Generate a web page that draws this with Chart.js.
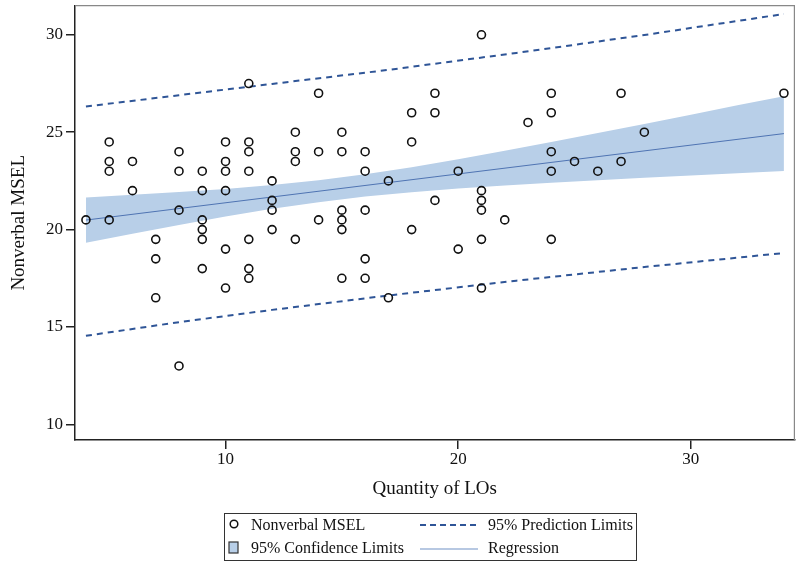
<!DOCTYPE html>
<html>
<head>
<meta charset="utf-8">
<script src="https://cdn.jsdelivr.net/npm/chart.js@4/dist/chart.umd.min.js"></script>
<style>
  body { margin: 0; background: #fff; }
  #wrap { position: relative; width: 800px; height: 565px; }
  #legend {
    position: absolute; left: 224px; top: 513px; width: 411px; height: 46px;
    border: 1.5px solid #333; font-family: 'Liberation Serif', serif; font-size: 16px; color: #111;
  }
  #legend span { position: absolute; line-height: 18px; white-space: nowrap; }
  #legend svg { position: absolute; }
</style>
</head>
<body>
<div id="wrap">
  <canvas id="myChart" width="800" height="565"></canvas>
  <div id="legend">
    <svg style="left:3px;top:4px" width="12" height="12"><circle cx="6" cy="6" r="3.8" fill="none" stroke="#111" stroke-width="1.5"/></svg>
    <span style="left:26px;top:2px">Nonverbal MSEL</span>
    <svg style="left:195px;top:9px" width="58" height="4"><line x1="0" y1="2" x2="58" y2="2" stroke="#2f5597" stroke-width="2" stroke-dasharray="6,4"/></svg>
    <span style="left:263px;top:2px">95% Prediction Limits</span>
    <svg style="left:3px;top:27px" width="12" height="14"><rect x="1" y="1" width="9" height="11" fill="#b8cfe8" stroke="#333" stroke-width="1.2"/></svg>
    <span style="left:26px;top:25px">95% Confidence Limits</span>
    <svg style="left:195px;top:33px" width="58" height="4"><line x1="0" y1="2" x2="58" y2="2" stroke="#9fb6d8" stroke-width="1.5"/></svg>
    <span style="left:263px;top:25px">Regression</span>
  </div>
</div>
<script>
// observed points (x = quantity of LOs, y = nonverbal MSEL)
let pointX = [4, 5, 5, 5, 5, 6, 6, 7, 7, 7, 8, 8, 8, 8,
  9, 9, 9, 9, 9, 9, 10, 10, 10, 10, 10, 10,
  11, 11, 11, 11, 11, 11, 11, 12, 12, 12, 12,
  13, 13, 13, 13, 14, 14, 14, 15, 15, 15, 15, 15, 15,
  16, 16, 16, 16, 16, 17, 17, 18, 18, 18, 19, 19, 19, 20, 20,
  21, 21, 21, 21, 21, 21, 22, 23, 24, 24, 24, 24, 24, 25, 26, 27, 27, 28, 34];
let pointY = [20.5, 24.5, 23.5, 23, 20.5, 23.5, 22, 19.5, 18.5, 16.5, 24, 23, 21, 13,
  23, 22, 20.5, 20, 19.5, 18, 24.5, 23.5, 23, 22, 19, 17,
  27.5, 24.5, 24, 23, 19.5, 18, 17.5, 22.5, 21.5, 21, 20,
  25, 24, 23.5, 19.5, 27, 24, 20.5, 25, 24, 21, 20.5, 20, 17.5,
  24, 23, 21, 18.5, 17.5, 22.5, 16.5, 26, 24.5, 20, 27, 26, 21.5, 23, 19,
  30, 22, 21.5, 21, 19.5, 17, 20.5, 25.5, 27, 26, 24, 23, 19.5, 23.5, 23, 27, 23.5, 25, 27];

// regression line
let regX = [4, 34];
let regY = [20.49, 24.93];

// 95% confidence band
let bandX = [4, 6, 8, 10, 12, 14, 16, 18, 20, 22, 24, 26, 28, 30, 32, 34];
let bandUpper = [21.65, 21.79, 21.93, 22.09, 22.29, 22.53, 22.84, 23.2, 23.61, 24.05, 24.5, 24.96, 25.42, 25.9, 26.38, 26.85];
let bandLower = [19.33, 19.79, 20.24, 20.67, 21.07, 21.41, 21.7, 21.92, 22.11, 22.27, 22.41, 22.54, 22.66, 22.78, 22.9, 23.01];

// 95% prediction limits
let predX = [4, 8, 12, 17, 22.5, 28, 34];
let predUpper = [26.32, 26.9, 27.48, 28.2, 29.07, 29.99, 31.07];
let predLower = [14.55, 15.25, 15.88, 16.62, 17.38, 18.08, 18.8];

let xTicks = [10, 20, 30];
let yTicks = [10, 15, 20, 25, 30];

function pairs(xs, ys) {
    return xs.map((x, i) => ({ x: x, y: ys[i] }));
}

let serif = 'Liberation Serif';
let axisColor = '#222';

// light grey frame on top and right like the original
let framePlugin = {
    id: 'frame',
    afterDraw(chart) {
        let a = chart.chartArea;
        let ctx = chart.ctx;
        ctx.save();
        ctx.strokeStyle = '#888';
        ctx.lineWidth = 1.2;
        ctx.beginPath();
        ctx.moveTo(a.left, a.top);
        ctx.lineTo(a.right, a.top);
        ctx.lineTo(a.right, a.bottom);
        ctx.stroke();
        ctx.restore();
    }
};

let ctx = document.getElementById('myChart').getContext('2d');

let chart = new Chart(ctx, {
    type: 'scatter',
    data: {
        datasets: [
            {
                label: 'Nonverbal MSEL',
                data: pairs(pointX, pointY),
                pointRadius: 4,
                pointBorderWidth: 1.6,
                borderColor: '#111',
                backgroundColor: 'rgba(0,0,0,0)'
            },
            {
                label: 'Regression',
                data: pairs(regX, regY),
                showLine: true,
                pointRadius: 0,
                borderColor: '#4f74b3',
                borderWidth: 1
            },
            {
                label: '95% Prediction Limits',
                data: pairs(predX, predUpper),
                showLine: true,
                pointRadius: 0,
                borderColor: '#2f5597',
                borderWidth: 2,
                borderDash: [6, 5]
            },
            {
                label: 'lower prediction',
                data: pairs(predX, predLower),
                showLine: true,
                pointRadius: 0,
                borderColor: '#2f5597',
                borderWidth: 2,
                borderDash: [6, 5]
            },
            {
                label: '95% Confidence Limits',
                data: pairs(bandX, bandUpper),
                showLine: true,
                pointRadius: 0,
                borderWidth: 0,
                borderColor: 'rgba(0,0,0,0)',
                backgroundColor: '#b8cfe8',
                fill: '+1'
            },
            {
                label: 'lower confidence',
                data: pairs(bandX, bandLower),
                showLine: true,
                pointRadius: 0,
                borderWidth: 0,
                borderColor: 'rgba(0,0,0,0)'
            }
        ]
    },
    options: {
        responsive: false,
        animation: false,
        layout: { padding: { top: 4, right: 0, left: 0, bottom: 65 } },
        plugins: {
            legend: { display: false },
            tooltip: { enabled: false }
        },
        scales: {
            x: {
                type: 'linear',
                min: 3.53,
                max: 34.45,
                afterBuildTicks: s => { s.ticks = xTicks.map(v => ({ value: v })); },
                afterFit: s => { s.height = 60; s.paddingLeft = 0; s.paddingRight = 0; },
                border: { color: axisColor, width: 1.5 },
                grid: { drawOnChartArea: false, tickLength: 9, color: axisColor, lineWidth: 1.5 },
                ticks: { font: { family: serif, size: 17 }, color: '#111', padding: 0, maxRotation: 0 },
                title: { display: true, text: 'Quantity of LOs', font: { family: serif, size: 19 }, color: '#111', padding: { top: 0, bottom: 0 } }
            },
            y: {
                min: 9.2,
                max: 31.5,
                afterBuildTicks: s => { s.ticks = yTicks.map(v => ({ value: v })); },
                afterFit: s => { s.width = 75; s.paddingTop = 0; s.paddingBottom = 0; },
                border: { color: axisColor, width: 1.5 },
                grid: { drawOnChartArea: false, tickLength: 9, color: axisColor, lineWidth: 1.5 },
                ticks: { font: { family: serif, size: 17 }, color: '#111', padding: 3 },
                title: { display: true, text: 'Nonverbal MSEL', font: { family: serif, size: 19 }, color: '#111', padding: { top: 8, bottom: 0 } }
            }
        }
    },
    plugins: [framePlugin]
});
</script>
</body>
</html>
